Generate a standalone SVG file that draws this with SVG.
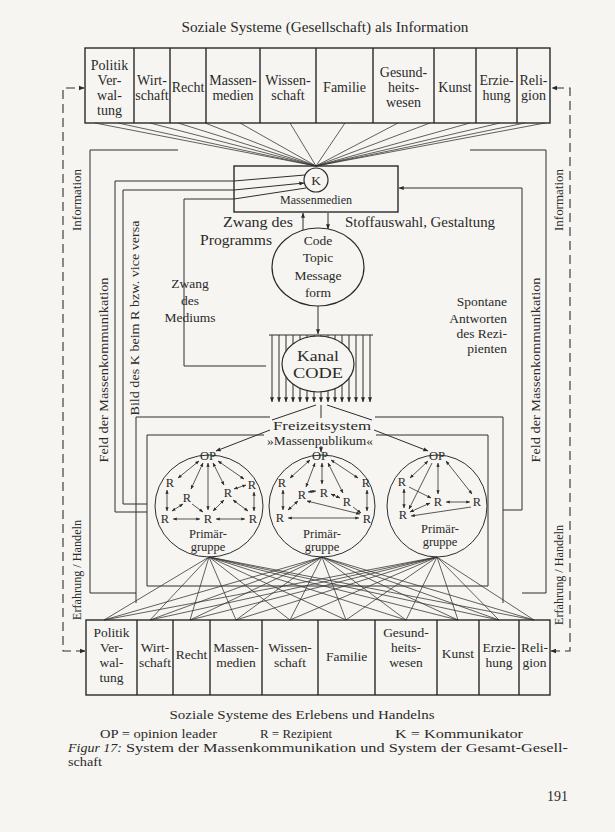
<svg xmlns="http://www.w3.org/2000/svg" width="615" height="832" viewBox="0 0 615 832">
<defs>
<style>
.ln{fill:none;stroke:#2e2e2e;stroke-width:1}
.fn{fill:none;stroke:#3a3a3a;stroke-width:0.8}
.bx{fill:none;stroke:#2a2a2a;stroke-width:1.4}
.sh{fill:#f6f5f1;stroke:#2a2a2a;stroke-width:1.2}
.ds{fill:none;stroke:#2e2e2e;stroke-width:1.1;stroke-dasharray:9 5}
text{font-family:"Liberation Serif","DejaVu Serif",serif;fill:#2a2a2a}
.c{font-size:14px;text-anchor:middle}
.b{font-size:13.5px;text-anchor:middle}
.m{font-size:13.5px;text-anchor:middle}
.r{font-size:12.5px;text-anchor:middle}
.v{font-size:13.5px;text-anchor:middle;dominant-baseline:central}
.ga{fill:none;stroke:#2e2e2e;stroke-width:0.8;marker-start:url(#a);marker-end:url(#a)}
.ge{fill:none;stroke:#2e2e2e;stroke-width:0.8;marker-end:url(#a)}
</style>
<marker id="a" viewBox="0 0 8 8" refX="7.5" refY="4" markerWidth="5" markerHeight="5" orient="auto-start-reverse"><path d="M0,0.8 L8,4 L0,7.2z" fill="#2a2a2a"/></marker>
</defs>
<rect width="615" height="832" fill="#f6f5f1"/>

<text x="325" y="32" font-size="14" text-anchor="middle" textLength="287" lengthAdjust="spacingAndGlyphs">Soziale Systeme (Gesellschaft) als Information</text>

<g id="top-systems">
<rect class="bx" x="85" y="48" width="465" height="75"/>
<path class="bx" d="M134,48V123M170,48V123M206,48V123M260,48V123M316,48V123M373,48V123M434,48V123M476,48V123M517,48V123"/>
<text class="c" x="109.5" y="70">Politik</text><text class="c" x="109.5" y="85">Ver-</text><text class="c" x="109.5" y="99.5">wal-</text><text class="c" x="109.5" y="114.5">tung</text>
<text class="c" x="152" y="85">Wirt-</text><text class="c" x="152" y="100">schaft</text>
<text class="c" x="188" y="92">Recht</text>
<text class="c" x="233" y="85">Massen-</text><text class="c" x="233" y="100">medien</text>
<text class="c" x="288" y="85">Wissen-</text><text class="c" x="288" y="100">schaft</text>
<text class="c" x="344.5" y="92">Familie</text>
<text class="c" x="403.5" y="77">Gesund-</text><text class="c" x="403.5" y="92">heits-</text><text class="c" x="403.5" y="107">wesen</text>
<text class="c" x="455" y="92">Kunst</text>
<text class="c" x="496.5" y="85">Erzie-</text><text class="c" x="496.5" y="100">hung</text>
<text class="c" x="533.5" y="85">Reli-</text><text class="c" x="533.5" y="100">gion</text>
</g>

<g id="connectors">
<path class="fn" d="M95,123L316,166M118,123L316,166M150,123L316,166M178,123L316,166M205,123L316,166M240,123L316,166M290,123L316,166M345,123L316,166M398,123L316,166M430,123L316,166M470,123L316,166M500,123L316,166M525,123L316,166M545,123L316,166"/>
<path class="ds" d="M85,651H63V88H84" marker-start="url(#a)" marker-end="url(#a)"/>
<path class="ds" d="M551,651H570V88H552" marker-start="url(#a)" marker-end="url(#a)"/>
<polyline class="ln" points="178,150 90,150 90,593 136,593"/>
<polyline class="ln" points="470,150 546,150 546,593 522,593"/>
<polyline class="ln" points="147,512 115,512 115,181 234,181 305,175"/>
<polyline class="ln" points="147,504 123,504 123,190 234,190 304,183" marker-end="url(#a)"/>
<polyline class="ln" points="266,366 184,366 184,199 234,199 306,188"/>
<polyline class="ln" points="503,510 522,510 522,188 399,188" marker-end="url(#a)"/>
<line class="ln" x1="303" y1="231" x2="303" y2="213" marker-end="url(#a)"/>
<line class="ln" x1="328" y1="213" x2="328" y2="229" marker-end="url(#a)"/>
<line class="ln" x1="318" y1="306" x2="318" y2="334" marker-end="url(#a)"/>
<path class="ln" d="M269,335H373"/>
<g class="ln" marker-end="url(#a)">
<line x1="272" y1="335" x2="272" y2="402"/><line x1="279" y1="335" x2="279" y2="402"/><line x1="286" y1="335" x2="286" y2="402"/><line x1="293" y1="335" x2="293" y2="402"/><line x1="300" y1="335" x2="300" y2="402"/><line x1="307" y1="335" x2="307" y2="402"/><line x1="314" y1="335" x2="314" y2="402"/><line x1="321" y1="335" x2="321" y2="402"/><line x1="328" y1="335" x2="328" y2="402"/><line x1="335" y1="335" x2="335" y2="402"/><line x1="342" y1="335" x2="342" y2="402"/><line x1="349" y1="335" x2="349" y2="402"/><line x1="356" y1="335" x2="356" y2="402"/><line x1="363" y1="335" x2="363" y2="402"/><line x1="370" y1="335" x2="370" y2="402"/>
</g>
<path class="ln" d="M316,405L272,420M327,405L372,420M321,405V418"/>
<line class="ln" x1="270" y1="430" x2="216" y2="451" marker-end="url(#a)"/>
<line class="ln" x1="374" y1="430" x2="428" y2="451" marker-end="url(#a)"/>
<line class="ln" x1="321" y1="446" x2="321" y2="452" marker-end="url(#a)"/>
<path class="ln" d="M136,603V417H270M375,417H503V603"/>
<path class="ln" d="M264,435H147V586H488V435H376"/>
<path class="fn" d="M209,557L104,620M209,557L150,620M209,557L190,620M209,557L236,620M209,557L290,620M209,557L346,620M209,557L406,620M209,557L458,620M209,557L499,620M209,557L534,620M322,557L104,620M322,557L150,620M322,557L190,620M322,557L236,620M322,557L290,620M322,557L346,620M322,557L406,620M322,557L458,620M322,557L499,620M322,557L534,620M437,557L104,620M437,557L150,620M437,557L190,620M437,557L236,620M437,557L290,620M437,557L346,620M437,557L406,620M437,557L458,620M437,557L499,620M437,557L534,620"/>
</g>

<g id="massenmedien">
<rect class="bx" x="234" y="166" width="164" height="46" fill="none"/>
<circle class="sh" cx="316" cy="180" r="12"/>
<text class="m" x="316" y="185" font-size="13">K</text>
<text x="316" y="204" font-size="13" text-anchor="middle" textLength="72" lengthAdjust="spacingAndGlyphs">Massenmedien</text>
</g>

<g id="code">
<ellipse class="sh" cx="318" cy="267" rx="46" ry="39"/>
<text class="m" x="318" y="245">Code</text>
<text class="m" x="318" y="262">Topic</text>
<text class="m" x="318" y="280">Message</text>
<text class="m" x="318" y="297">form</text>
</g>

<g id="kanal">
<ellipse class="sh" cx="318" cy="364" rx="36" ry="28"/>
<text x="318" y="361" font-size="15" text-anchor="middle" textLength="42" lengthAdjust="spacingAndGlyphs">Kanal</text>
<text x="318" y="378" font-size="15" text-anchor="middle" textLength="50" lengthAdjust="spacingAndGlyphs">CODE</text>
</g>

<g id="labels">
<text x="293" y="227" font-size="14" text-anchor="end" textLength="70" lengthAdjust="spacingAndGlyphs">Zwang des</text>
<text x="272" y="245" font-size="14" text-anchor="end" textLength="72" lengthAdjust="spacingAndGlyphs">Programms</text>
<text x="345" y="227" font-size="14" textLength="150" lengthAdjust="spacingAndGlyphs">Stoffauswahl, Gestaltung</text>
<text class="m" x="190" y="288">Zwang</text>
<text class="m" x="190" y="305">des</text>
<text class="m" x="190" y="322">Mediums</text>
<text x="507" y="306" font-size="13.5" text-anchor="end">Spontane</text>
<text x="507" y="323" font-size="13.5" text-anchor="end">Antworten</text>
<text x="507" y="338" font-size="13.5" text-anchor="end">des Rezi-</text>
<text x="507" y="353" font-size="13.5" text-anchor="end">pienten</text>
<text class="v" transform="translate(76,200) rotate(-90)" textLength="62" lengthAdjust="spacingAndGlyphs">Information</text>
<text class="v" transform="translate(76,570) rotate(-90)" textLength="100" lengthAdjust="spacingAndGlyphs">Erfahrung / Handeln</text>
<text class="v" transform="translate(103,370) rotate(-90)" textLength="185" lengthAdjust="spacingAndGlyphs">Feld der Massenkommunikation</text>
<text class="v" transform="translate(134,318) rotate(-90)" textLength="195" lengthAdjust="spacingAndGlyphs">Bild des K beim R bzw. vice versa</text>
<text class="v" transform="translate(558,200) rotate(-90)" textLength="62" lengthAdjust="spacingAndGlyphs">Information</text>
<text class="v" transform="translate(558,575) rotate(-90)" textLength="100" lengthAdjust="spacingAndGlyphs">Erfahrung / Handeln</text>
<text class="v" transform="translate(535,370) rotate(-90)" textLength="185" lengthAdjust="spacingAndGlyphs">Feld der Massenkommunikation</text>
</g>

<g id="freizeit">
<text x="322" y="430" font-size="13.5" text-anchor="middle" textLength="98" lengthAdjust="spacingAndGlyphs">Freizeitsystem</text>
<text x="320" y="445" font-size="13" text-anchor="middle" textLength="106" lengthAdjust="spacingAndGlyphs">»Massenpublikum«</text>
</g>

<g id="group1">
<ellipse class="ln" cx="209" cy="506" rx="54" ry="51"/>
<text class="r" x="208" y="460">OP</text>
<text class="r" x="170" y="487">R</text><text class="r" x="252" y="489">R</text>
<text class="r" x="187" y="502">R</text><text class="r" x="228" y="497">R</text>
<text class="r" x="165" y="523">R</text><text class="r" x="208" y="523">R</text><text class="r" x="253" y="523">R</text>
<text class="r" x="208" y="538">Primär-</text><text class="r" x="208" y="551">gruppe</text>
<path class="ga" d="M199,461L178,478"/><path class="ga" d="M218,461L244,479"/>
<path class="ga" d="M203,463L191,489"/><path class="ga" d="M208,463V510"/>
<path class="ga" d="M213,463L224,485"/><path class="ga" d="M167,490V511"/>
<path class="ga" d="M254,492V511"/><path class="ge" d="M192,504L203,512"/>
<path class="ga" d="M224,500L213,511"/><path class="ga" d="M234,489L246,485"/>
<path class="ga" d="M233,500L248,511"/><path class="ga" d="M173,519H200"/>
<path class="ga" d="M216,519H245"/><path class="ga" d="M183,504L172,511"/>
</g>

<g id="group2">
<ellipse class="ln" cx="322" cy="506" rx="53" ry="51"/>
<text class="r" x="320" y="460">OP</text>
<text class="r" x="282" y="487">R</text><text class="r" x="366" y="487">R</text>
<text class="r" x="302" y="499">R</text><text class="r" x="324" y="497">R</text><text class="r" x="347" y="506">R</text>
<text class="r" x="280" y="522">R</text><text class="r" x="367" y="523">R</text>
<text class="r" x="322" y="538">Primär-</text><text class="r" x="322" y="551">gruppe</text>
<path class="ga" d="M310,460L290,478"/><path class="ga" d="M322,463V484"/>
<path class="ga" d="M331,460L358,478"/><path class="ga" d="M315,463L306,487"/>
<path class="ga" d="M328,463L343,493"/><path class="ga" d="M308,492L316,491"/>
<path class="ga" d="M331,494L340,498"/><path class="ga" d="M283,490V510"/>
<path class="ga" d="M367,490V511"/><path class="ga" d="M288,518H359"/>
<path class="ga" d="M307,501L360,514"/><path class="ge" d="M353,507L361,513"/>
<path class="ga" d="M298,501L288,510"/>
</g>

<g id="group3">
<ellipse class="ln" cx="437" cy="506" rx="50" ry="51"/>
<text class="r" x="437" y="460">OP</text>
<text class="r" x="402" y="486">R</text><text class="r" x="438" y="506">R</text>
<text class="r" x="477" y="506">R</text><text class="r" x="403" y="519">R</text>
<text class="r" x="440" y="533">Primär-</text><text class="r" x="440" y="546">gruppe</text>
<path class="ga" d="M428,461L410,478"/><path class="ga" d="M438,463V494"/>
<path class="ga" d="M446,461L472,494"/><path class="ge" d="M409,487L431,498"/>
<path class="ga" d="M404,489V508"/><path class="ge" d="M432,463L409,509"/>
<path class="ga" d="M410,512L430,503"/><path class="ga" d="M446,502H470"/>
<path class="ge" d="M471,507L411,516"/>
</g>

<g id="bottom-systems">
<rect class="bx" x="86" y="620" width="464" height="75"/>
<path class="bx" d="M137,620V695M173,620V695M210,620V695M262,620V695M318,620V695M375,620V695M437,620V695M479,620V695M519,620V695"/>
<text class="b" x="111.5" y="637">Politik</text><text class="b" x="111.5" y="652">Ver-</text><text class="b" x="111.5" y="667">wal-</text><text class="b" x="111.5" y="682">tung</text>
<text class="b" x="155" y="652">Wirt-</text><text class="b" x="155" y="667">schaft</text>
<text class="b" x="191.5" y="659">Recht</text>
<text class="b" x="236" y="652">Massen-</text><text class="b" x="236" y="667">medien</text>
<text class="b" x="290" y="652">Wissen-</text><text class="b" x="290" y="667">schaft</text>
<text class="b" x="346.5" y="661">Familie</text>
<text class="b" x="406" y="637">Gesund-</text><text class="b" x="406" y="652">heits-</text><text class="b" x="406" y="667">wesen</text>
<text class="b" x="458" y="658">Kunst</text>
<text class="b" x="499" y="652">Erzie-</text><text class="b" x="499" y="667">hung</text>
<text class="b" x="534.5" y="652">Reli-</text><text class="b" x="534.5" y="667">gion</text>
</g>

<text x="302" y="719" font-size="13.5" text-anchor="middle" textLength="265" lengthAdjust="spacingAndGlyphs">Soziale Systeme des Erlebens und Handelns</text>
<text x="100" y="738" font-size="13" textLength="117" lengthAdjust="spacingAndGlyphs">OP = opinion leader</text>
<text x="260" y="738" font-size="13" textLength="72" lengthAdjust="spacingAndGlyphs">R = Rezipient</text>
<text x="395" y="738" font-size="13" textLength="128" lengthAdjust="spacingAndGlyphs">K = Kommunikator</text>
<text x="68" y="752" font-size="13" font-style="italic" textLength="54" lengthAdjust="spacingAndGlyphs">Figur 17:</text>
<text x="126" y="752" font-size="13" textLength="442" lengthAdjust="spacingAndGlyphs">System der Massenkommunikation und System der Gesamt-Gesell-</text>
<text x="68" y="766" font-size="13" textLength="34" lengthAdjust="spacingAndGlyphs">schaft</text>
<text x="568" y="801" font-size="14" text-anchor="end">191</text>
</svg>
